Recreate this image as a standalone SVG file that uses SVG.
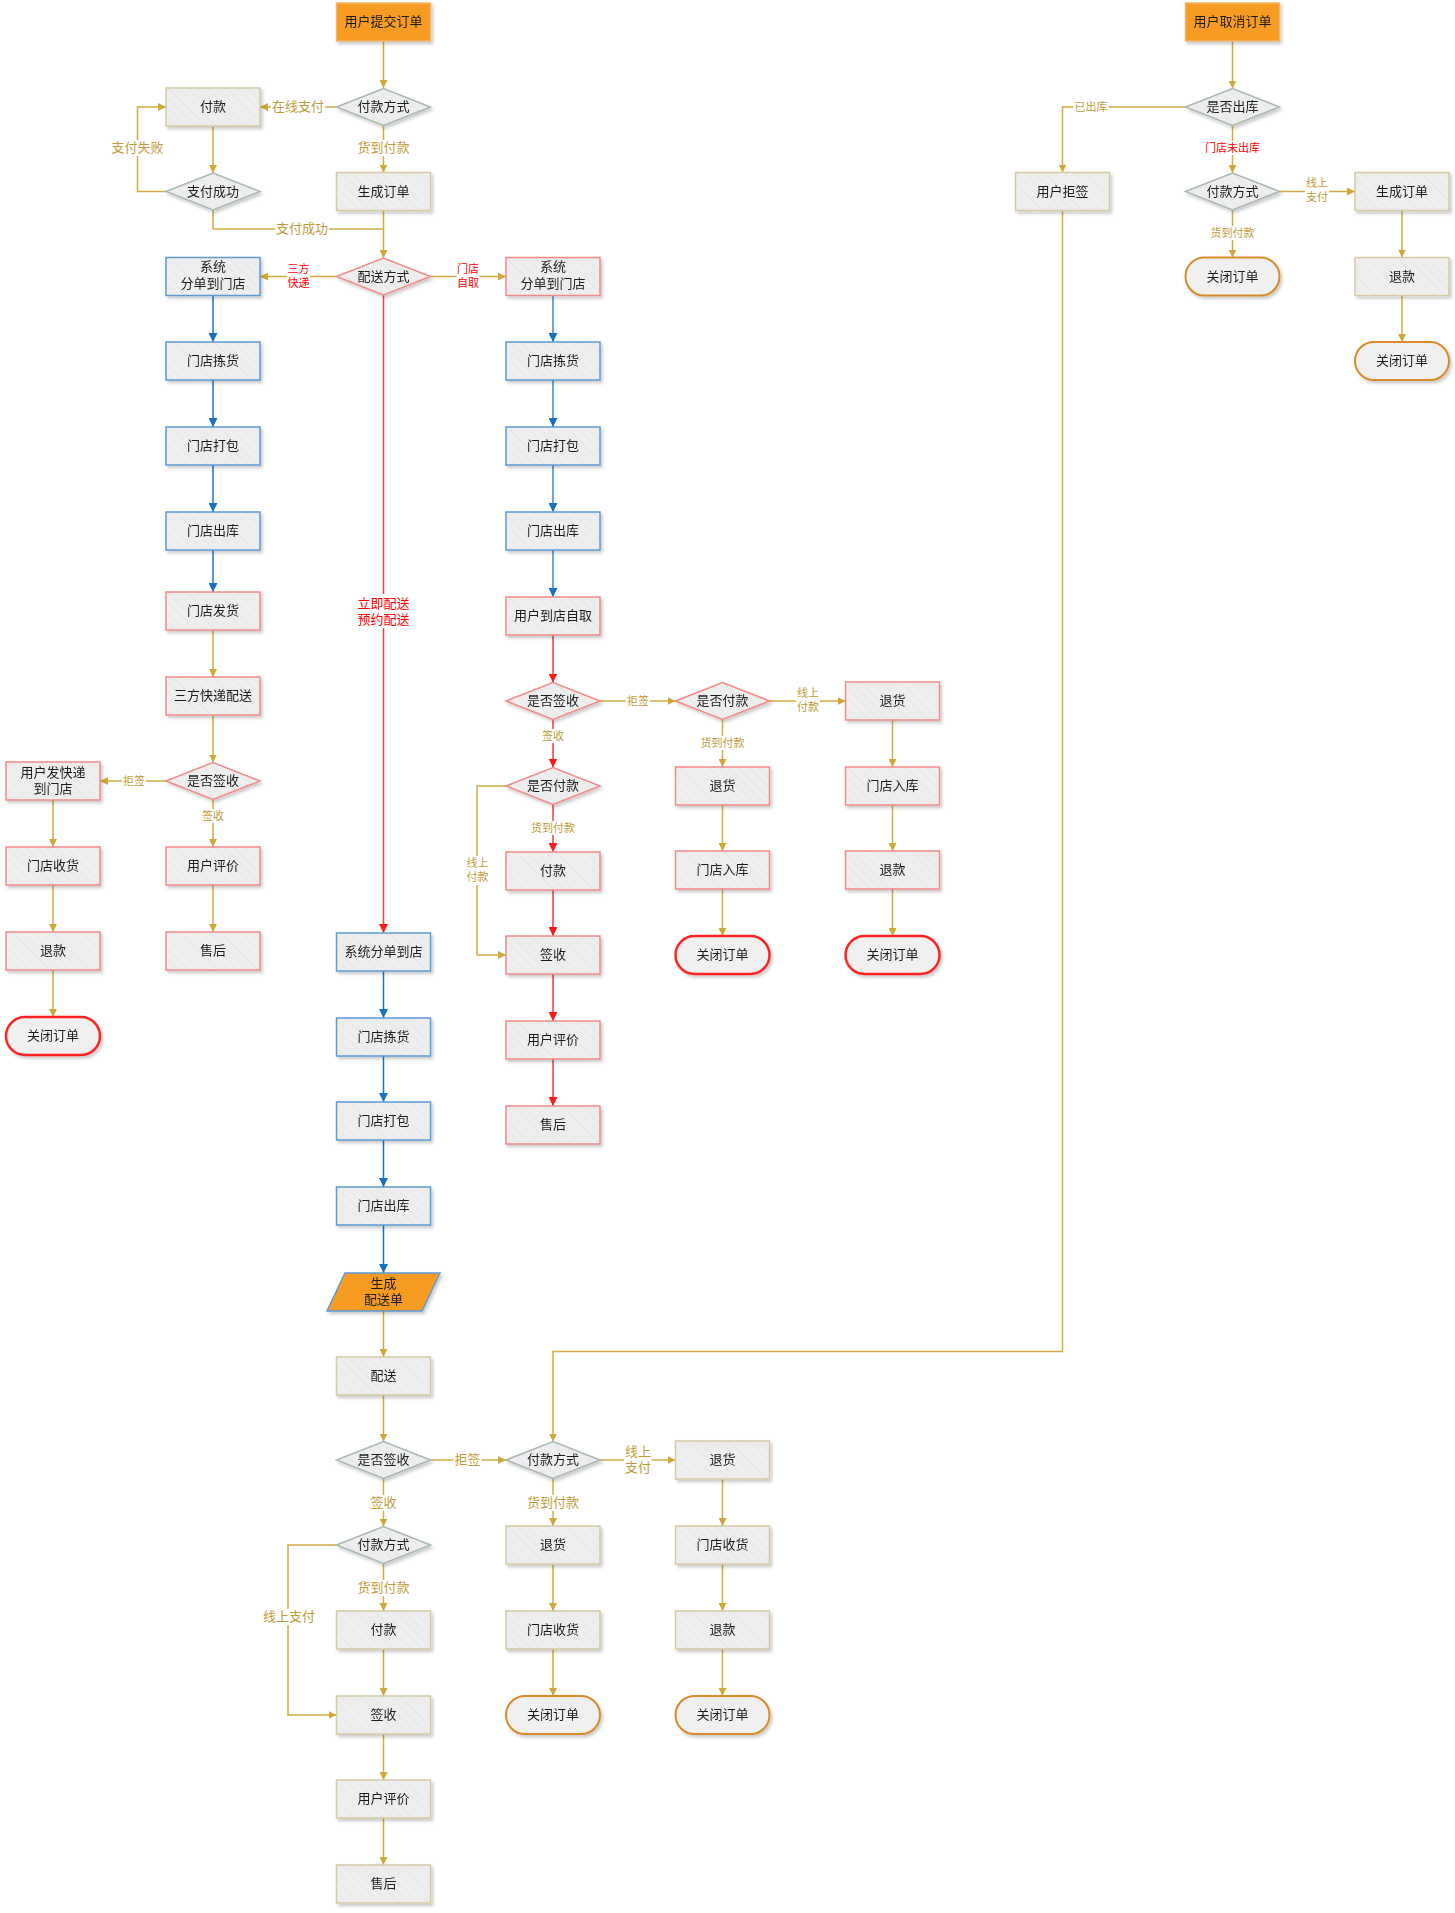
<svg xmlns="http://www.w3.org/2000/svg" width="1455" height="1913" viewBox="0 0 1455 1913">
<defs>
<pattern id="hatch" patternUnits="userSpaceOnUse" width="7" height="7" patternTransform="rotate(-45)">
<rect width="7" height="7" fill="#eeeeee"/>
<line x1="0" y1="0" x2="0" y2="7" stroke="#e5e5e5" stroke-width="1.5"/>
</pattern>
<filter id="sh" x="-10%" y="-10%" width="125%" height="140%">
<feDropShadow dx="2" dy="2.5" stdDeviation="1.5" flood-color="#000" flood-opacity="0.2"/>
</filter>
<marker id="ag" viewBox="0 0 10 10" refX="10" refY="5" markerWidth="8" markerHeight="8" markerUnits="userSpaceOnUse" orient="auto"><path d="M0,0 L10,5 L0,10 z" fill="#cfa936"/></marker>
<marker id="ab" viewBox="0 0 10 10" refX="10" refY="5" markerWidth="9" markerHeight="9" markerUnits="userSpaceOnUse" orient="auto"><path d="M0,0 L10,5 L0,10 z" fill="#1870c4"/></marker>
<marker id="ar" viewBox="0 0 10 10" refX="10" refY="5" markerWidth="9" markerHeight="9" markerUnits="userSpaceOnUse" orient="auto"><path d="M0,0 L10,5 L0,10 z" fill="#ff1a1a"/></marker>
</defs>
<style>
.box{fill:url(#hatch);stroke:#d5caa4;stroke-width:1.5}
.bl{stroke:#5b9bd5}
.rd{stroke:#f28a8a}
.dg{fill:url(#hatch);stroke:#a9b9b1;stroke-width:1.5}
.dr{fill:url(#hatch);stroke:#f28a8a;stroke-width:1.5}
.org{fill:#f89b22;stroke:#f3b56c;stroke-width:1.5}
.pr{fill:#f0f0f0;stroke:#ff2424;stroke-width:2.5}
.po{fill:#f0f0f0;stroke:#d98b2c;stroke-width:2}
.n{filter:url(#sh)}
text{font-family:"Noto Sans CJK SC","Liberation Sans",sans-serif;text-anchor:middle;dominant-baseline:central;transform:translateY(-1.5px)}
.t{font-size:13px;fill:#1c1c1c}
.l{font-size:13px;fill:#bf9b3a}
.s{font-size:11px;fill:#bf9b3a}
.lr{fill:#ff0000}
.lb{fill:#fff}
.cg{fill:none;stroke:#d1ac40;stroke-width:1.5;marker-end:url(#ag)}
.cgn{fill:none;stroke:#d1ac40;stroke-width:1.5}
.cb{fill:none;stroke:#1a74c8;stroke-width:1.5;marker-end:url(#ab)}
.cbl{fill:none;stroke:#6aa7dd;stroke-width:2;marker-end:url(#ab)}
.cr{fill:none;stroke:#ff3b3b;stroke-width:1.5;marker-end:url(#ar)}
.crl{fill:none;stroke:#f46e6e;stroke-width:2;marker-end:url(#ar)}
</style>
<rect width="1455" height="1913" fill="#fff"/>

<g id="connectors">
<path class="cg" d="M383.5,41 V88"/>
<path class="cg" d="M336.5,107 H260"/>
<path class="cg" d="M383.5,125.5 V172.5"/>
<path class="cg" d="M213,126 V173"/>
<path class="cg" d="M166,191.5 H137.5 V107 H166"/>
<path class="cgn" d="M213,210 V229 H383.5"/>
<path class="cg" d="M383.5,210.5 V258"/>
<path class="cg" d="M336.5,276.5 H260"/>
<path class="cg" d="M430.5,276.5 H506"/>
<path class="cb" d="M213,295.5 V342"/>
<path class="cb" d="M213,380 V427"/>
<path class="cb" d="M213,465 V512"/>
<path class="cb" d="M213,550 V592"/>
<path class="cg" d="M213,630 V677"/>
<path class="cg" d="M213,715 V762.5"/>
<path class="cg" d="M166,781 H100"/>
<path class="cg" d="M213,799.5 V847"/>
<path class="cg" d="M53,800 V847"/>
<path class="cg" d="M53,885 V932"/>
<path class="cg" d="M53,970 V1017"/>
<path class="cg" d="M213,885 V932"/>
<path class="cr" d="M383.5,295 V933"/>
<path class="cb" d="M383.5,971 V1018"/>
<path class="cb" d="M383.5,1056 V1102"/>
<path class="cb" d="M383.5,1140 V1187"/>
<path class="cb" d="M383.5,1225 V1273"/>
<path class="cg" d="M383.5,1311 V1357"/>
<path class="cg" d="M383.5,1395 V1441.5"/>
<path class="cg" d="M430.5,1460 H506"/>
<path class="cg" d="M600,1460 H675.5"/>
<path class="cg" d="M383.5,1478.5 V1526.5"/>
<path class="cg" d="M383.5,1563.5 V1611"/>
<path class="cg" d="M336.5,1545 H288 V1715 H336.5"/>
<path class="cg" d="M383.5,1649 V1696"/>
<path class="cg" d="M383.5,1734 V1780"/>
<path class="cg" d="M383.5,1818 V1865"/>
<path class="cg" d="M553,1478.5 V1526"/>
<path class="cg" d="M553,1564 V1611"/>
<path class="cg" d="M553,1649 V1696"/>
<path class="cg" d="M722.5,1479 V1526"/>
<path class="cg" d="M722.5,1564 V1611"/>
<path class="cg" d="M722.5,1649 V1696"/>
<path class="cbl" d="M553,295.5 V342"/>
<path class="cbl" d="M553,380 V427"/>
<path class="cbl" d="M553,465 V512"/>
<path class="cbl" d="M553,550 V597"/>
<path class="crl" d="M553,635 V682.5"/>
<path class="crl" d="M553,719.5 V767.5"/>
<path class="crl" d="M553,804.5 V852"/>
<path class="crl" d="M553,890 V936"/>
<path class="crl" d="M553,974 V1021"/>
<path class="crl" d="M553,1059 V1106"/>
<path class="cg" d="M600,701 H675.5"/>
<path class="cg" d="M769.5,701 H845.5"/>
<path class="cg" d="M722.5,719.5 V767"/>
<path class="cg" d="M506,786 H477 V955 H506"/>
<path class="cg" d="M722.5,805 V851"/>
<path class="cg" d="M722.5,889 V936"/>
<path class="cg" d="M892.5,720 V767"/>
<path class="cg" d="M892.5,805 V851"/>
<path class="cg" d="M892.5,889 V936"/>
<path class="cg" d="M1232.5,41 V88.5"/>
<path class="cg" d="M1185.5,107 H1062.5 V172.5"/>
<path class="cg" d="M1232.5,125.5 V173"/>
<path class="cg" d="M1279.5,191.5 H1355"/>
<path class="cg" d="M1232.5,210 V257.5"/>
<path class="cg" d="M1402,210.5 V257.5"/>
<path class="cg" d="M1402,295.5 V342"/>
<path class="cg" d="M1062.5,210.5 V1351.5 H553 V1441.5"/>
</g>

<g id="edge-labels">
<rect class="lb" x="271" y="99" width="54" height="16"/><text class="l" x="298" y="107">在线支付</text>
<rect class="lb" x="356.5" y="140" width="54" height="16"/><text class="l" x="383.5" y="148">货到付款</text>
<rect class="lb" x="110.5" y="140" width="54" height="16"/><text class="l" x="137.5" y="148">支付失败</text>
<rect class="lb" x="275" y="221" width="54" height="16"/><text class="l" x="302" y="229">支付成功</text>
<rect class="lb" x="287" y="261" width="23" height="30"/><text class="s lr" x="298.5" y="269">三方</text><text class="s lr" x="298.5" y="283">快递</text>
<rect class="lb" x="456.5" y="261" width="23" height="30"/><text class="s lr" x="468" y="269">门店</text><text class="s lr" x="468" y="283">自取</text>
<rect class="lb" x="356" y="594" width="55" height="34"/><text class="l lr" x="383.5" y="603.5">立即配送</text><text class="l lr" x="383.5" y="620">预约配送</text>
<rect class="lb" x="122" y="774" width="24" height="14"/><text class="s" x="134" y="781">拒签</text>
<rect class="lb" x="201" y="809" width="24" height="14"/><text class="s" x="213" y="816">签收</text>
<rect class="lb" x="626" y="694" width="24" height="14"/><text class="s" x="638" y="701">拒签</text>
<rect class="lb" x="541" y="729" width="24" height="14"/><text class="s" x="553" y="736">签收</text>
<rect class="lb" x="796" y="686" width="24" height="29"/><text class="s" x="808" y="693.5">线上</text><text class="s" x="808" y="707">付款</text>
<rect class="lb" x="699.5" y="736" width="46" height="14"/><text class="s" x="722.5" y="743">货到付款</text>
<rect class="lb" x="530" y="821" width="46" height="14"/><text class="s" x="553" y="828">货到付款</text>
<rect class="lb" x="465.5" y="856" width="24" height="29"/><text class="s" x="477.5" y="863.5">线上</text><text class="s" x="477.5" y="877">付款</text>
<rect class="lb" x="1073.5" y="100" width="35" height="14"/><text class="s" x="1091" y="107">已出库</text>
<rect class="lb" x="1204" y="141" width="57" height="14"/><text class="s lr" x="1232.5" y="148">门店未出库</text>
<rect class="lb" x="1305" y="176" width="24" height="29"/><text class="s" x="1317" y="183.5">线上</text><text class="s" x="1317" y="197">支付</text>
<rect class="lb" x="1209.5" y="226" width="46" height="14"/><text class="s" x="1232.5" y="233">货到付款</text>
<rect class="lb" x="453.5" y="1452" width="28" height="16"/><text class="l" x="467.5" y="1460">拒签</text>
<rect class="lb" x="624" y="1443" width="28" height="34"/><text class="l" x="638" y="1451.5">线上</text><text class="l" x="638" y="1468">支付</text>
<rect class="lb" x="369.5" y="1495" width="28" height="16"/><text class="l" x="383.5" y="1503">签收</text>
<rect class="lb" x="526" y="1495" width="54" height="16"/><text class="l" x="553" y="1503">货到付款</text>
<rect class="lb" x="356.5" y="1580" width="54" height="16"/><text class="l" x="383.5" y="1588">货到付款</text>
<rect class="lb" x="262" y="1609" width="54" height="16"/><text class="l" x="289" y="1617">线上支付</text>
</g>

<g id="n1" class="n"><rect class="org" x="336.5" y="3" width="94" height="38"/><text class="t" x="383.5" y="22">用户提交订单</text></g>
<g id="n2" class="n"><polygon class="dg" points="336.5,107 383.5,88.5 430.5,107 383.5,125.5"/><text class="t" x="383.5" y="107">付款方式</text></g>
<g id="n3" class="n"><rect class="box" x="166" y="88" width="94" height="38"/><text class="t" x="213" y="107">付款</text></g>
<g id="n4" class="n"><polygon class="dg" points="166,191.5 213,173 260,191.5 213,210"/><text class="t" x="213" y="191.5">支付成功</text></g>
<g id="n5" class="n"><rect class="box" x="336.5" y="172.5" width="94" height="38"/><text class="t" x="383.5" y="191.5">生成订单</text></g>
<g id="n6" class="n"><polygon class="dr" points="336.5,276.5 383.5,258 430.5,276.5 383.5,295"/><text class="t" x="383.5" y="276.5">配送方式</text></g>
<g id="n7" class="n"><rect class="box bl" x="166" y="257.5" width="94" height="38"/><text class="t" x="213" y="267">系统</text><text class="t" x="213" y="284">分单到门店</text></g>
<g id="n8" class="n"><rect class="box bl" x="166" y="342" width="94" height="38"/><text class="t" x="213" y="361">门店拣货</text></g>
<g id="n9" class="n"><rect class="box bl" x="166" y="427" width="94" height="38"/><text class="t" x="213" y="446">门店打包</text></g>
<g id="n10" class="n"><rect class="box bl" x="166" y="512" width="94" height="38"/><text class="t" x="213" y="531">门店出库</text></g>
<g id="n11" class="n"><rect class="box rd" x="166" y="592" width="94" height="38"/><text class="t" x="213" y="611">门店发货</text></g>
<g id="n12" class="n"><rect class="box rd" x="166" y="677" width="94" height="38"/><text class="t" x="213" y="696">三方快递配送</text></g>
<g id="n13" class="n"><polygon class="dr" points="166,781 213,762.5 260,781 213,799.5"/><text class="t" x="213" y="781">是否签收</text></g>
<g id="n14" class="n"><rect class="box rd" x="6" y="762" width="94" height="38"/><text class="t" x="53" y="772.5">用户发快递</text><text class="t" x="53" y="789">到门店</text></g>
<g id="n15" class="n"><rect class="box rd" x="6" y="847" width="94" height="38"/><text class="t" x="53" y="866">门店收货</text></g>
<g id="n16" class="n"><rect class="box rd" x="6" y="932" width="94" height="38"/><text class="t" x="53" y="951">退款</text></g>
<g id="n17" class="n"><rect class="pr" x="6" y="1017" width="94" height="38" rx="19"/><text class="t" x="53" y="1036">关闭订单</text></g>
<g id="n18" class="n"><rect class="box rd" x="166" y="847" width="94" height="38"/><text class="t" x="213" y="866">用户评价</text></g>
<g id="n19" class="n"><rect class="box rd" x="166" y="932" width="94" height="38"/><text class="t" x="213" y="951">售后</text></g>
<g id="n20" class="n"><rect class="box rd" x="506" y="257.5" width="94" height="38"/><text class="t" x="553" y="267">系统</text><text class="t" x="553" y="284">分单到门店</text></g>
<g id="n21" class="n"><rect class="box bl" x="506" y="342" width="94" height="38"/><text class="t" x="553" y="361">门店拣货</text></g>
<g id="n22" class="n"><rect class="box bl" x="506" y="427" width="94" height="38"/><text class="t" x="553" y="446">门店打包</text></g>
<g id="n23" class="n"><rect class="box bl" x="506" y="512" width="94" height="38"/><text class="t" x="553" y="531">门店出库</text></g>
<g id="n24" class="n"><rect class="box rd" x="506" y="597" width="94" height="38"/><text class="t" x="553" y="616">用户到店自取</text></g>
<g id="n25" class="n"><polygon class="dr" points="506,701 553,682.5 600,701 553,719.5"/><text class="t" x="553" y="701">是否签收</text></g>
<g id="n26" class="n"><polygon class="dr" points="675.5,701 722.5,682.5 769.5,701 722.5,719.5"/><text class="t" x="722.5" y="701">是否付款</text></g>
<g id="n27" class="n"><rect class="box rd" x="845.5" y="682" width="94" height="38"/><text class="t" x="892.5" y="701">退货</text></g>
<g id="n28" class="n"><polygon class="dr" points="506,786 553,767.5 600,786 553,804.5"/><text class="t" x="553" y="786">是否付款</text></g>
<g id="n29" class="n"><rect class="box rd" x="506" y="852" width="94" height="38"/><text class="t" x="553" y="871">付款</text></g>
<g id="n30" class="n"><rect class="box rd" x="506" y="936" width="94" height="38"/><text class="t" x="553" y="955">签收</text></g>
<g id="n31" class="n"><rect class="box rd" x="506" y="1021" width="94" height="38"/><text class="t" x="553" y="1040">用户评价</text></g>
<g id="n32" class="n"><rect class="box rd" x="506" y="1106" width="94" height="38"/><text class="t" x="553" y="1125">售后</text></g>
<g id="n33" class="n"><rect class="box rd" x="675.5" y="767" width="94" height="38"/><text class="t" x="722.5" y="786">退货</text></g>
<g id="n34" class="n"><rect class="box rd" x="675.5" y="851" width="94" height="38"/><text class="t" x="722.5" y="870">门店入库</text></g>
<g id="n35" class="n"><rect class="pr" x="675.5" y="936" width="94" height="38" rx="19"/><text class="t" x="722.5" y="955">关闭订单</text></g>
<g id="n36" class="n"><rect class="box rd" x="845.5" y="767" width="94" height="38"/><text class="t" x="892.5" y="786">门店入库</text></g>
<g id="n37" class="n"><rect class="box rd" x="845.5" y="851" width="94" height="38"/><text class="t" x="892.5" y="870">退款</text></g>
<g id="n38" class="n"><rect class="pr" x="845.5" y="936" width="94" height="38" rx="19"/><text class="t" x="892.5" y="955">关闭订单</text></g>
<g id="n39" class="n"><rect class="box bl" x="336.5" y="933" width="94" height="38"/><text class="t" x="383.5" y="952">系统分单到店</text></g>
<g id="n40" class="n"><rect class="box bl" x="336.5" y="1018" width="94" height="38"/><text class="t" x="383.5" y="1037">门店拣货</text></g>
<g id="n41" class="n"><rect class="box bl" x="336.5" y="1102" width="94" height="38"/><text class="t" x="383.5" y="1121">门店打包</text></g>
<g id="n42" class="n"><rect class="box bl" x="336.5" y="1187" width="94" height="38"/><text class="t" x="383.5" y="1206">门店出库</text></g>
<g id="n43" class="n"><polygon points="345,1273 440,1273 422,1311 327,1311" fill="#f89b22" stroke="#5b9bd5" stroke-width="1.5"/><text class="t" x="383.5" y="1283.5">生成</text><text class="t" x="383.5" y="1300">配送单</text></g>
<g id="n44" class="n"><rect class="box" x="336.5" y="1357" width="94" height="38"/><text class="t" x="383.5" y="1376">配送</text></g>
<g id="n45" class="n"><polygon class="dg" points="336.5,1460 383.5,1441.5 430.5,1460 383.5,1478.5"/><text class="t" x="383.5" y="1460">是否签收</text></g>
<g id="n46" class="n"><polygon class="dg" points="336.5,1545 383.5,1526.5 430.5,1545 383.5,1563.5"/><text class="t" x="383.5" y="1545">付款方式</text></g>
<g id="n47" class="n"><rect class="box" x="336.5" y="1611" width="94" height="38"/><text class="t" x="383.5" y="1630">付款</text></g>
<g id="n48" class="n"><rect class="box" x="336.5" y="1696" width="94" height="38"/><text class="t" x="383.5" y="1715">签收</text></g>
<g id="n49" class="n"><rect class="box" x="336.5" y="1780" width="94" height="38"/><text class="t" x="383.5" y="1799">用户评价</text></g>
<g id="n50" class="n"><rect class="box" x="336.5" y="1865" width="94" height="38"/><text class="t" x="383.5" y="1884">售后</text></g>
<g id="n51" class="n"><polygon class="dg" points="506,1460 553,1441.5 600,1460 553,1478.5"/><text class="t" x="553" y="1460">付款方式</text></g>
<g id="n52" class="n"><rect class="box" x="506" y="1526" width="94" height="38"/><text class="t" x="553" y="1545">退货</text></g>
<g id="n53" class="n"><rect class="box" x="506" y="1611" width="94" height="38"/><text class="t" x="553" y="1630">门店收货</text></g>
<g id="n54" class="n"><rect class="po" x="506" y="1696" width="94" height="38" rx="19"/><text class="t" x="553" y="1715">关闭订单</text></g>
<g id="n55" class="n"><rect class="box" x="675.5" y="1441" width="94" height="38"/><text class="t" x="722.5" y="1460">退货</text></g>
<g id="n56" class="n"><rect class="box" x="675.5" y="1526" width="94" height="38"/><text class="t" x="722.5" y="1545">门店收货</text></g>
<g id="n57" class="n"><rect class="box" x="675.5" y="1611" width="94" height="38"/><text class="t" x="722.5" y="1630">退款</text></g>
<g id="n58" class="n"><rect class="po" x="675.5" y="1696" width="94" height="38" rx="19"/><text class="t" x="722.5" y="1715">关闭订单</text></g>
<g id="n59" class="n"><rect class="org" x="1185.5" y="3" width="94" height="38"/><text class="t" x="1232.5" y="22">用户取消订单</text></g>
<g id="n60" class="n"><polygon class="dg" points="1185.5,107 1232.5,88.5 1279.5,107 1232.5,125.5"/><text class="t" x="1232.5" y="107">是否出库</text></g>
<g id="n61" class="n"><rect class="box" x="1015.5" y="172.5" width="94" height="38"/><text class="t" x="1062.5" y="191.5">用户拒签</text></g>
<g id="n62" class="n"><polygon class="dg" points="1185.5,191.5 1232.5,173 1279.5,191.5 1232.5,210"/><text class="t" x="1232.5" y="191.5">付款方式</text></g>
<g id="n63" class="n"><rect class="box" x="1355" y="172.5" width="94" height="38"/><text class="t" x="1402" y="191.5">生成订单</text></g>
<g id="n64" class="n"><rect class="po" x="1185.5" y="257.5" width="94" height="38" rx="19"/><text class="t" x="1232.5" y="276.5">关闭订单</text></g>
<g id="n65" class="n"><rect class="box" x="1355" y="257.5" width="94" height="38"/><text class="t" x="1402" y="276.5">退款</text></g>
<g id="n66" class="n"><rect class="po" x="1355" y="342" width="94" height="38" rx="19"/><text class="t" x="1402" y="361">关闭订单</text></g>
</svg>
